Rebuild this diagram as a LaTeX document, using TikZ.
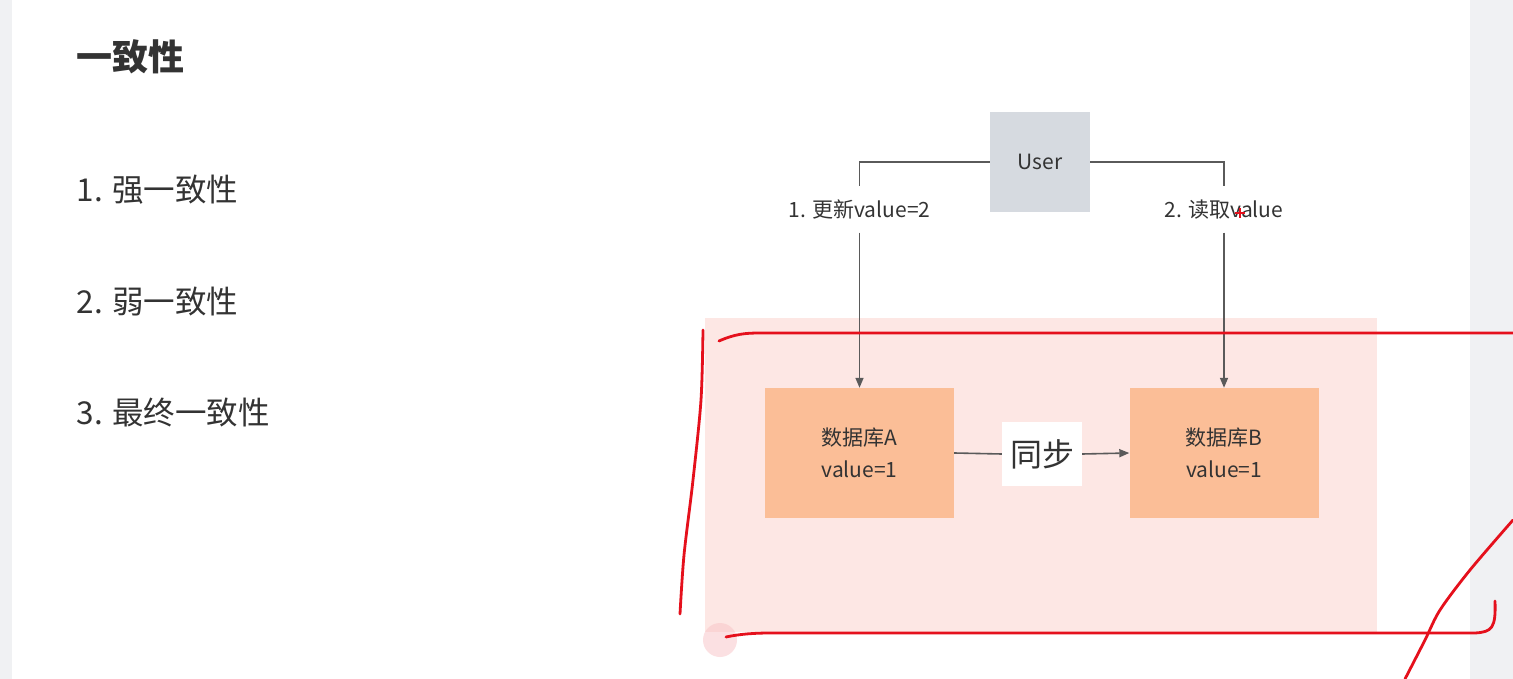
\documentclass[tikz,border=0pt]{standalone}
\usepackage{fontspec}
\setmainfont{Noto Sans CJK SC}
\usetikzlibrary{arrows.meta}
\definecolor{pagegray}{HTML}{F0F1F3}
\definecolor{usergray}{HTML}{D6DAE0}
\definecolor{dbpeach}{HTML}{FBBE97}
\definecolor{zonepink}{HTML}{FDE7E4}
\definecolor{linegray}{HTML}{5A5A5A}
\definecolor{txtgray}{HTML}{333333}
\definecolor{penred}{HTML}{E5101C}
\tikzset{
  dbbox/.style={fill=dbpeach, minimum width=189pt, minimum height=130pt, align=center, text=txtgray, font=\fontsize{21}{32}\selectfont},
  steplabel/.style={inner sep=0pt, minimum height=46pt, text=txtgray, font=\fontsize{21}{25}\selectfont},
  listitem/.style={anchor=west, text=txtgray, font=\fontsize{31.5}{36}\selectfont},
  link/.style={draw=linegray, line width=1.6pt},
  tip/.style={-{Triangle[length=10pt,width=8pt]}},
  pen/.style={draw=penred, line width=2.8pt, line cap=round, line join=round}
}
\begin{document}
\begin{tikzpicture}[x=1pt,y=-1pt]
		\useasboundingbox (0,0) rectangle (1513,679);
		% page
		\fill [white] (0,0) rectangle (1513,679);
		\fill [pagegray] (0,0) rectangle (12,679);
		\fill [pagegray] (1470,0) rectangle (1513,679);
		% text column
		\node [anchor=west, text=txtgray, font=\fontsize{36}{40}\selectfont\bfseries] (title) at (73,57) {一致性};
		\node [listitem] (strong) at (73,190) {1. 强一致性};
		\node [listitem] (weak) at (73,302) {2. 弱一致性};
		\node [listitem] (final) at (73,413) {3. 最终一致性};
		% diagram
		\fill [zonepink] (705,318) rectangle (1377,632);
		\node [fill=usergray, minimum width=100pt, minimum height=100pt, text=txtgray, font=\fontsize{21}{25}\selectfont] (user) at (1040,162) {User};
		\node [dbbox] (dbA) at (859.5,453) {数据库A\\value=1};
		\node [dbbox] (dbB) at (1224,453) {数据库B\\value=1};
		\node [steplabel] (writeA) at (859.5,209.5) {1. 更新value=2};
		\node [steplabel] (readB) at (1224,209.5) {2. 读取value};
		\node [fill=white, minimum width=80pt, minimum height=64pt, inner sep=0pt, text=txtgray, font=\fontsize{32}{36}\selectfont] (sync) at (1042,454) {同步};
		\draw [link] (user.west) -| (writeA.north);
		\draw [link, tip] (writeA.south) -- (dbA.north);
		\draw [link] (user.east) -| (readB.north);
		\draw [link, tip] (readB.south) -- (dbB.north);
		\draw [link] (dbA.east) -- (sync.west);
		\draw [link, tip] (sync.east) -- (dbB.west);
		% hand marks
		\draw [penred, line width=1.2pt] (1235,213) -- (1245,213) (1240,208) -- (1240,218);
		\fill [penred!25, opacity=0.5] (720,640) circle [radius=17];
		\draw [pen] plot [smooth] coordinates {(703,330) (701,400) (693,480) (684,555) (680,614)};
		\draw [pen] (719,341) .. controls (735,334) and (745,333) .. (760,333) -- (1513,333);
		\draw [pen] (726,637) .. controls (740,634) and (755,633) .. (770,633) -- (1475,633) .. controls (1492,632) and (1496,628) .. (1495,601);
		\draw [pen] plot [smooth] coordinates {(1513,520) (1470,570) (1440,610) (1425,640) (1405,679)};
\end{tikzpicture}
\end{document}
